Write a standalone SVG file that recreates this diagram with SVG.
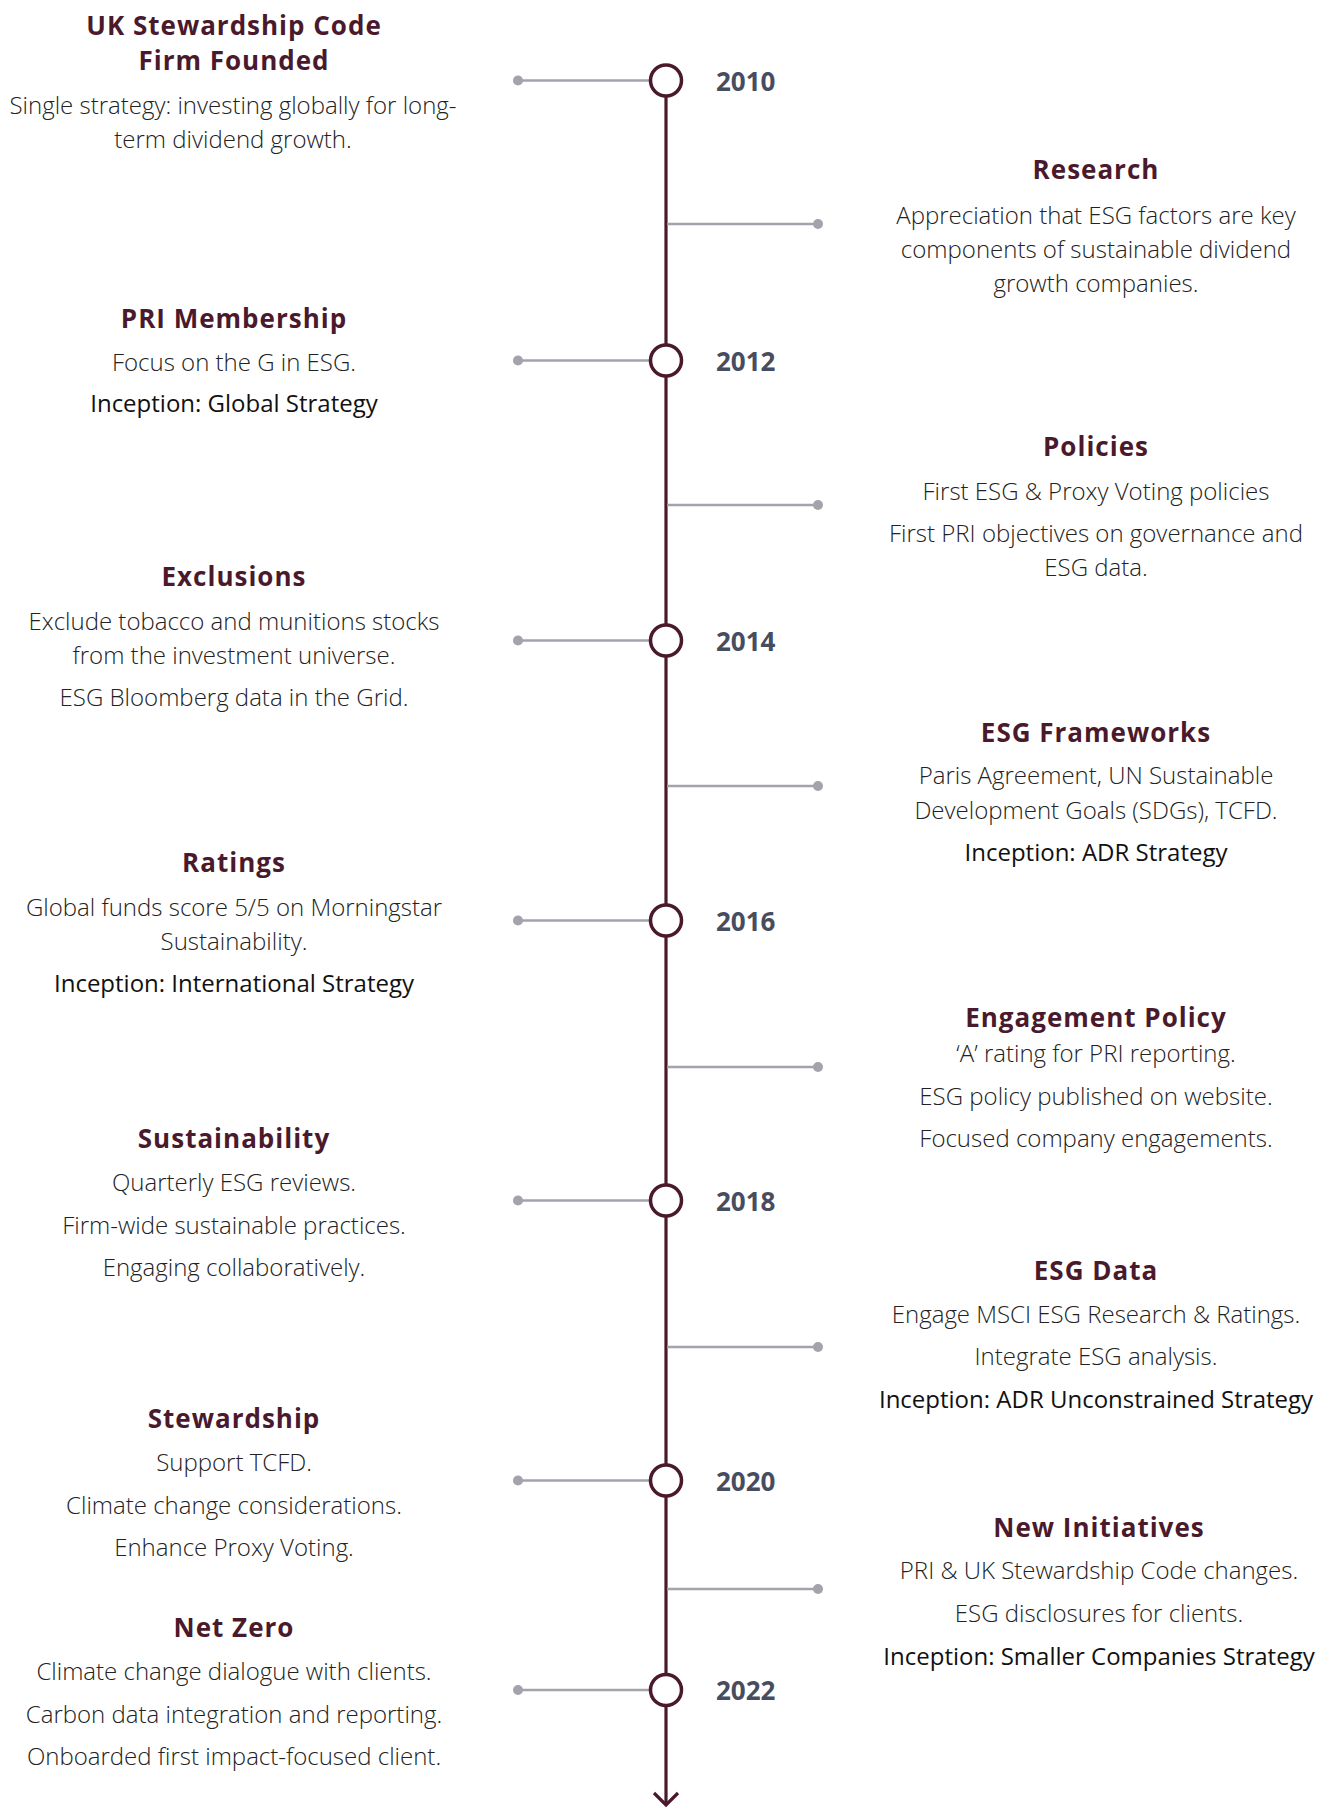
<svg xmlns="http://www.w3.org/2000/svg" width="1317" height="1807" viewBox="0 0 1317 1807">
<defs>
<style>
.t{font-family:"Open Sans","Liberation Sans",sans-serif;font-weight:700;font-size:26px;fill:#4a1a2c;text-anchor:middle;dominant-baseline:central;letter-spacing:1px}
.d{font-family:"Open Sans","Liberation Sans",sans-serif;font-weight:300;font-size:24px;fill:#222;text-anchor:middle;dominant-baseline:central}
.i{font-family:"Open Sans","Liberation Sans",sans-serif;font-weight:400;font-size:24px;fill:#111;text-anchor:middle;dominant-baseline:central}
.y{font-family:"Open Sans","Liberation Sans",sans-serif;font-weight:700;font-size:26px;fill:#474d5e;dominant-baseline:central}
.c{stroke:#a4a2ab;stroke-width:2.5;fill:none}
.dot{fill:#a4a2ab}
.ring{fill:#fff;stroke:#4a1a2c;stroke-width:3.5}
</style>
</defs>
<g id="connectors">
<line x1="666" y1="80" x2="666" y2="1803" stroke="#4a1a2c" stroke-width="3.2"/>
<polyline points="654,1793 666,1805 678,1793" fill="none" stroke="#4a1a2c" stroke-width="3.2"/>
<line class="c" x1="518" y1="80.5" x2="652" y2="80.5"/><circle class="dot" cx="518" cy="80.5" r="5"/>
<line class="c" x1="518" y1="360.5" x2="652" y2="360.5"/><circle class="dot" cx="518" cy="360.5" r="5"/>
<line class="c" x1="518" y1="640.5" x2="652" y2="640.5"/><circle class="dot" cx="518" cy="640.5" r="5"/>
<line class="c" x1="518" y1="920.5" x2="652" y2="920.5"/><circle class="dot" cx="518" cy="920.5" r="5"/>
<line class="c" x1="518" y1="1200.5" x2="652" y2="1200.5"/><circle class="dot" cx="518" cy="1200.5" r="5"/>
<line class="c" x1="518" y1="1480.5" x2="652" y2="1480.5"/><circle class="dot" cx="518" cy="1480.5" r="5"/>
<line class="c" x1="518" y1="1690" x2="652" y2="1690"/><circle class="dot" cx="518" cy="1690" r="5"/>
<line class="c" x1="667" y1="224" x2="818" y2="224"/><circle class="dot" cx="818" cy="224" r="5"/>
<line class="c" x1="667" y1="505" x2="818" y2="505"/><circle class="dot" cx="818" cy="505" r="5"/>
<line class="c" x1="667" y1="786" x2="818" y2="786"/><circle class="dot" cx="818" cy="786" r="5"/>
<line class="c" x1="667" y1="1067" x2="818" y2="1067"/><circle class="dot" cx="818" cy="1067" r="5"/>
<line class="c" x1="667" y1="1347" x2="818" y2="1347"/><circle class="dot" cx="818" cy="1347" r="5"/>
<line class="c" x1="667" y1="1589" x2="818" y2="1589"/><circle class="dot" cx="818" cy="1589" r="5"/>
</g>
<g id="y2010"><circle class="ring" cx="666" cy="80.5" r="15.5"/><text class="y" x="716" y="80.5">2010</text></g>
<g id="y2012"><circle class="ring" cx="666" cy="360.5" r="15.5"/><text class="y" x="716" y="360.5">2012</text></g>
<g id="y2014"><circle class="ring" cx="666" cy="640.5" r="15.5"/><text class="y" x="716" y="640.5">2014</text></g>
<g id="y2016"><circle class="ring" cx="666" cy="920.5" r="15.5"/><text class="y" x="716" y="920.5">2016</text></g>
<g id="y2018"><circle class="ring" cx="666" cy="1200.5" r="15.5"/><text class="y" x="716" y="1200.5">2018</text></g>
<g id="y2020"><circle class="ring" cx="666" cy="1480.5" r="15.5"/><text class="y" x="716" y="1480.5">2020</text></g>
<g id="y2022"><circle class="ring" cx="666" cy="1690" r="15.5"/><text class="y" x="716" y="1690">2022</text></g>
<g id="n-uk">
<text class="t" x="234" y="25">UK Stewardship Code</text>
<text class="t" x="234" y="60">Firm Founded</text>
<text class="d" x="233" y="104">Single strategy: investing globally for long-</text>
<text class="d" x="233" y="138">term dividend growth.</text>
</g>
<g id="n-research">
<text class="t" x="1096" y="169">Research</text>
<text class="d" x="1096" y="214">Appreciation that ESG factors are key</text>
<text class="d" x="1096" y="248">components of sustainable dividend</text>
<text class="d" x="1096" y="282">growth companies.</text>
</g>
<g id="n-pri">
<text class="t" x="234" y="318">PRI Membership</text>
<text class="d" x="234" y="361">Focus on the G in ESG.</text>
<text class="i" x="234" y="402">Inception: Global Strategy</text>
</g>
<g id="n-policies">
<text class="t" x="1096" y="446">Policies</text>
<text class="d" x="1096" y="490">First ESG &amp; Proxy Voting policies</text>
<text class="d" x="1096" y="532">First PRI objectives on governance and</text>
<text class="d" x="1096" y="566">ESG data.</text>
</g>
<g id="n-exclusions">
<text class="t" x="234" y="576">Exclusions</text>
<text class="d" x="234" y="620">Exclude tobacco and munitions stocks</text>
<text class="d" x="234" y="654">from the investment universe.</text>
<text class="d" x="234" y="696">ESG Bloomberg data in the Grid.</text>
</g>
<g id="n-frameworks">
<text class="t" x="1096" y="732">ESG Frameworks</text>
<text class="d" x="1096" y="774">Paris Agreement, UN Sustainable</text>
<text class="d" x="1096" y="809">Development Goals (SDGs), TCFD.</text>
<text class="i" x="1096" y="851">Inception: ADR Strategy</text>
</g>
<g id="n-ratings">
<text class="t" x="234" y="862">Ratings</text>
<text class="d" x="234" y="906">Global funds score 5/5 on Morningstar</text>
<text class="d" x="234" y="940">Sustainability.</text>
<text class="i" x="234" y="982">Inception: International Strategy</text>
</g>
<g id="n-engagement">
<text class="t" x="1096" y="1017">Engagement Policy</text>
<text class="d" x="1096" y="1052">‘A’ rating for PRI reporting.</text>
<text class="d" x="1096" y="1095">ESG policy published on website.</text>
<text class="d" x="1096" y="1137">Focused company engagements.</text>
</g>
<g id="n-sustainability">
<text class="t" x="234" y="1138">Sustainability</text>
<text class="d" x="234" y="1181">Quarterly ESG reviews.</text>
<text class="d" x="234" y="1224">Firm-wide sustainable practices.</text>
<text class="d" x="234" y="1266">Engaging collaboratively.</text>
</g>
<g id="n-esgdata">
<text class="t" x="1096" y="1270">ESG Data</text>
<text class="d" x="1096" y="1313">Engage MSCI ESG Research &amp; Ratings.</text>
<text class="d" x="1096" y="1355">Integrate ESG analysis.</text>
<text class="i" x="1096" y="1398">Inception: ADR Unconstrained Strategy</text>
</g>
<g id="n-stewardship">
<text class="t" x="234" y="1418">Stewardship</text>
<text class="d" x="234" y="1461">Support TCFD.</text>
<text class="d" x="234" y="1504">Climate change considerations.</text>
<text class="d" x="234" y="1546">Enhance Proxy Voting.</text>
</g>
<g id="n-newinit">
<text class="t" x="1099" y="1527">New Initiatives</text>
<text class="d" x="1099" y="1569">PRI &amp; UK Stewardship Code changes.</text>
<text class="d" x="1099" y="1612">ESG disclosures for clients.</text>
<text class="i" x="1099" y="1655">Inception: Smaller Companies Strategy</text>
</g>
<g id="n-netzero">
<text class="t" x="234" y="1627">Net Zero</text>
<text class="d" x="234" y="1670">Climate change dialogue with clients.</text>
<text class="d" x="234" y="1713">Carbon data integration and reporting.</text>
<text class="d" x="234" y="1755">Onboarded first impact-focused client.</text>
</g>
</svg>
